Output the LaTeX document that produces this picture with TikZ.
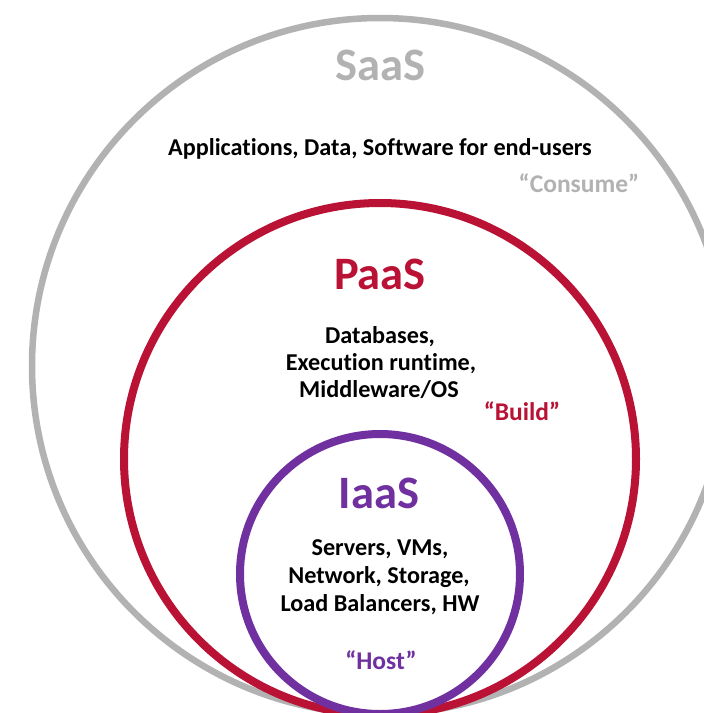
\documentclass[tikz,border=0pt]{standalone}
\usepackage{fontspec}
\setmainfont{Carlito}[Ligatures=NoCommon]
\definecolor{saasgray}{RGB}{178,178,178}
\definecolor{paasred}{RGB}{186,18,52}
\definecolor{iaaspurple}{RGB}{112,48,160}
\tikzset{
  ring/.style={line width=7pt},
  title/.style={font=\bfseries\fontsize{46.5}{50}\selectfont, inner sep=0pt, anchor=base},
  body/.style={font=\bfseries\fontsize{24.2}{28}\selectfont, inner sep=0pt, anchor=base, text=black},
  motto/.style={font=\bfseries\fontsize{25.5}{28}\selectfont, inner sep=0pt, anchor=base}
}
\begin{document}
\begin{tikzpicture}[x=1pt,y=-1pt]
\useasboundingbox (0,0) rectangle (704,713);
\clip (0,0) rectangle (704,713);
\fill[white] (0,0) rectangle (704,713);
% circles
\draw[ring, saasgray, line width=6.5pt] (380,366) circle[radius=348];
\draw[ring, paasred, line width=8pt] (380,459) circle[radius=256];
\draw[ring, iaaspurple, line width=8pt] (380,574) circle[radius=140];
% SaaS
\node[title, text=saasgray] (saas) at (380,80) {SaaS};
\node[body] (saasbody) at (380,155) {Applications, Data, Software for end-users};
\node[motto, text=saasgray] (consume) at (579,192) {“Consume”};
% PaaS
\node[title, text=paasred] (paas) at (380,289) {PaaS};
\node[body] (paasbody1) at (380,343) {Databases,};
\node[body] (paasbody2) at (381,370) {Execution runtime,};
\node[body] (paasbody3) at (379,397) {Middleware/OS};
\node[motto, text=paasred] (build) at (522,420) {“Build”};
% IaaS
\node[title, text=iaaspurple] (iaas) at (379,508) {IaaS};
\node[body] (iaasbody1) at (380,555) {Servers, VMs,};
\node[body] (iaasbody2) at (379,583) {Network, Storage,};
\node[body] (iaasbody3) at (380,611) {Load Balancers, HW};
\node[motto, text=iaaspurple] (host) at (381,669) {“Host”};
\end{tikzpicture}
\end{document}
